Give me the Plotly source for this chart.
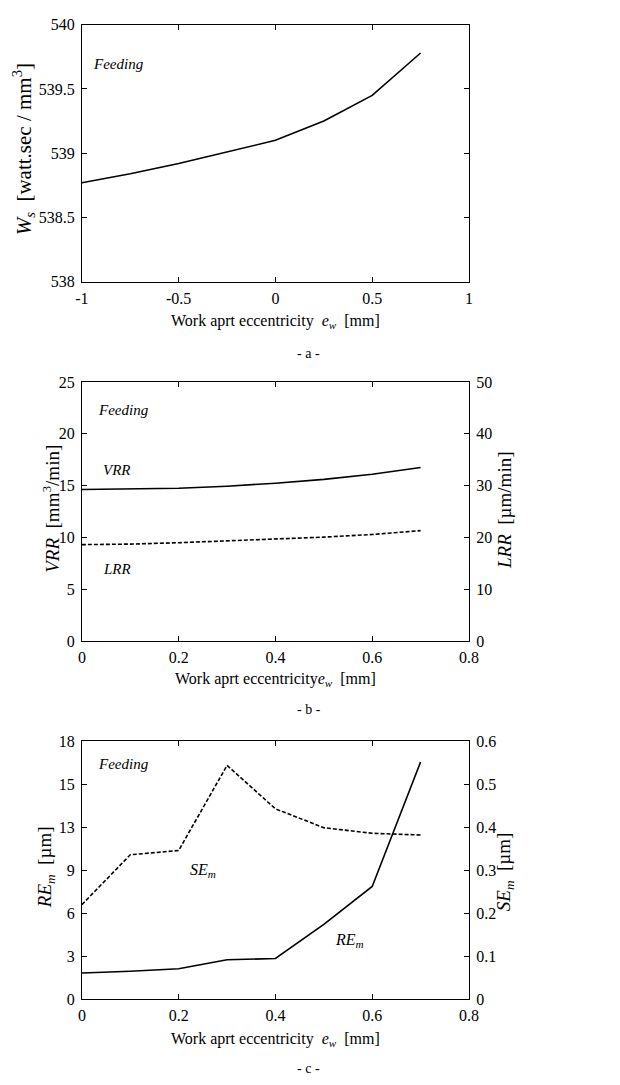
import plotly.graph_objects as go

# Panel a
ew_a = [-1, -0.75, -0.5, -0.25, 0, 0.25, 0.5, 0.75]
ws = [538.77, 538.84, 538.92, 539.01, 539.10, 539.25, 539.45, 539.78]

# Panel b
ew_b = [0, 0.1, 0.2, 0.3, 0.4, 0.5, 0.6, 0.7]
vrr = [14.62, 14.66, 14.75, 14.94, 15.23, 15.6, 16.1, 16.75]
lrr = [18.6, 18.7, 18.97, 19.3, 19.67, 20.05, 20.56, 21.3]

# Panel c
ew_c = [0, 0.1, 0.2, 0.3, 0.4, 0.5, 0.6, 0.7]
rem = [1.83, 1.95, 2.13, 2.75, 2.84, 5.23, 7.87, 16.56]
sem = [0.22, 0.336, 0.346, 0.544, 0.443, 0.399, 0.386, 0.382]

ticks_c_left = [0, 3, 6, 9, 12, 15, 18]
ticks_c_left_text = ["0", "3", "6", "9", "13", "15", "18"]

W, H = 620, 1085
FONT = "Liberation Serif, Times New Roman, serif"
BLACK = "#000000"

def py(px):
    return 1 - px / H

def pxx(px):
    return px / W

fig = go.Figure()
line = dict(color=BLACK, width=1.6)
dline = dict(color=BLACK, width=1.6, dash="4px,2px")

fig.add_trace(go.Scatter(x=ew_a, y=ws, mode="lines", line=line, xaxis="x", yaxis="y", showlegend=False))
fig.add_trace(go.Scatter(x=ew_b, y=vrr, mode="lines", line=line, xaxis="x2", yaxis="y2", showlegend=False))
fig.add_trace(go.Scatter(x=ew_b, y=lrr, mode="lines", line=dline, xaxis="x2", yaxis="y3", showlegend=False))
fig.add_trace(go.Scatter(x=ew_c, y=rem, mode="lines", line=line, xaxis="x3", yaxis="y4", showlegend=False))
fig.add_trace(go.Scatter(x=ew_c, y=sem, mode="lines", line=dline, xaxis="x3", yaxis="y5", showlegend=False))

xdom = [pxx(77), pxx(475)]
dom_a = [py(278), py(17)]
dom_b = [py(643), py(380)]
dom_c = [py(1007), py(745)]

tickfont = dict(family=FONT, size=16, color=BLACK)
common = dict(showgrid=False, zeroline=False, showline=True, linecolor=BLACK, linewidth=1,
              ticks="inside", ticklen=5, tickcolor=BLACK, tickfont=tickfont)

fig.update_layout(
    width=W, height=H, margin=dict(l=0, r=0, t=0, b=0),
    plot_bgcolor="white", paper_bgcolor="white",
    font=dict(family=FONT, color=BLACK),
    xaxis=dict(domain=xdom, anchor="y", range=[-1, 1], tickvals=[-1, -0.5, 0, 0.5, 1],
               ticktext=["-1", "-0.5", "0", "0.5", "1"], mirror="ticks", ticklabelstandoff=2, **common),
    yaxis=dict(domain=dom_a, anchor="x", range=[538, 540], tickvals=[538, 538.5, 539, 539.5, 540],
               ticktext=["538", "538.5", "539", "539.5", "540"], mirror="ticks", ticklabelstandoff=3, **common),
    xaxis2=dict(domain=xdom, anchor="y2", range=[0, 0.8], tickvals=[0, 0.2, 0.4, 0.6, 0.8],
                ticktext=["0", "0.2", "0.4", "0.6", "0.8"], mirror="ticks", ticklabelstandoff=2, **common),
    yaxis2=dict(domain=dom_b, anchor="x2", range=[0, 25], tickvals=[0, 5, 10, 15, 20, 25],
                ticklabelstandoff=3, **common),
    yaxis3=dict(overlaying="y2", anchor="x2", side="right", range=[0, 50],
                tickvals=[0, 10, 20, 30, 40, 50], ticklabelstandoff=3, **common),
    xaxis3=dict(domain=xdom, anchor="y4", range=[0, 0.8], tickvals=[0, 0.2, 0.4, 0.6, 0.8],
                ticktext=["0", "0.2", "0.4", "0.6", "0.8"], mirror="ticks", ticklabelstandoff=2, **common),
    yaxis4=dict(domain=dom_c, anchor="x3", range=[0, 18], tickvals=ticks_c_left,
                ticktext=ticks_c_left_text, ticklabelstandoff=3, **common),
    yaxis5=dict(overlaying="y4", anchor="x3", side="right", range=[0, 0.6],
                tickvals=[0, 0.1, 0.2, 0.3, 0.4, 0.5, 0.6],
                ticktext=["0", "0.1", "0.2", "0.3", "0.4", "0.5", "0.6"], ticklabelstandoff=3, **common),
)

def ann(x, y, text, size=17, angle=0, xanchor="center"):
    fig.add_annotation(x=pxx(x), y=py(y), xref="paper", yref="paper", text=text, showarrow=False,
                       font=dict(family=FONT, size=size, color=BLACK), textangle=angle,
                       xanchor=xanchor, yanchor="middle")

xtitle = "Work aprt eccentricity  <i>e<sub>w</sub></i>  [mm]"
# panel a
ann(86, 57, "<i>Feeding</i>", 15, xanchor="left")
ann(276, 318, xtitle, 16)
ann(310, 351, "- a -", 14)
ann(17, 144, "<i>W<sub>s</sub></i>  [watt.sec / mm<sup>3</sup>]", 21, angle=-90)
# panel b
ann(91, 408, "<i>Feeding</i>", 15, xanchor="left")
ann(97, 469, "<i>VRR</i>", 15, xanchor="left")
ann(97, 570, "<i>LRR</i>", 15, xanchor="left")
ann(276, 682, "Work aprt eccentricity<i>e<sub>w</sub></i>  [mm]", 16)
ann(310, 713, "- b -", 14)
ann(45, 509, "<i>VRR</i>  [mm<sup>3</sup>/min]", 19, angle=-90)
ann(511, 510, "<i>LRR</i>  [µm/min]", 19, angle=-90)
# panel c
ann(91, 768, "<i>Feeding</i>", 15, xanchor="left")
ann(186, 876, "<i>SE<sub>m</sub></i>", 16, xanchor="left")
ann(335, 947, "<i>RE<sub>m</sub></i>", 16, xanchor="left")
ann(276, 1048, xtitle, 16)
ann(310, 1077, "- c -", 14)
ann(40, 873, "<i>RE<sub>m</sub></i>  [µm]", 19, angle=-90)
ann(512, 877, "<i>SE<sub>m</sub></i>  [µm]", 19, angle=-90)

fig.write_html("out.html")
